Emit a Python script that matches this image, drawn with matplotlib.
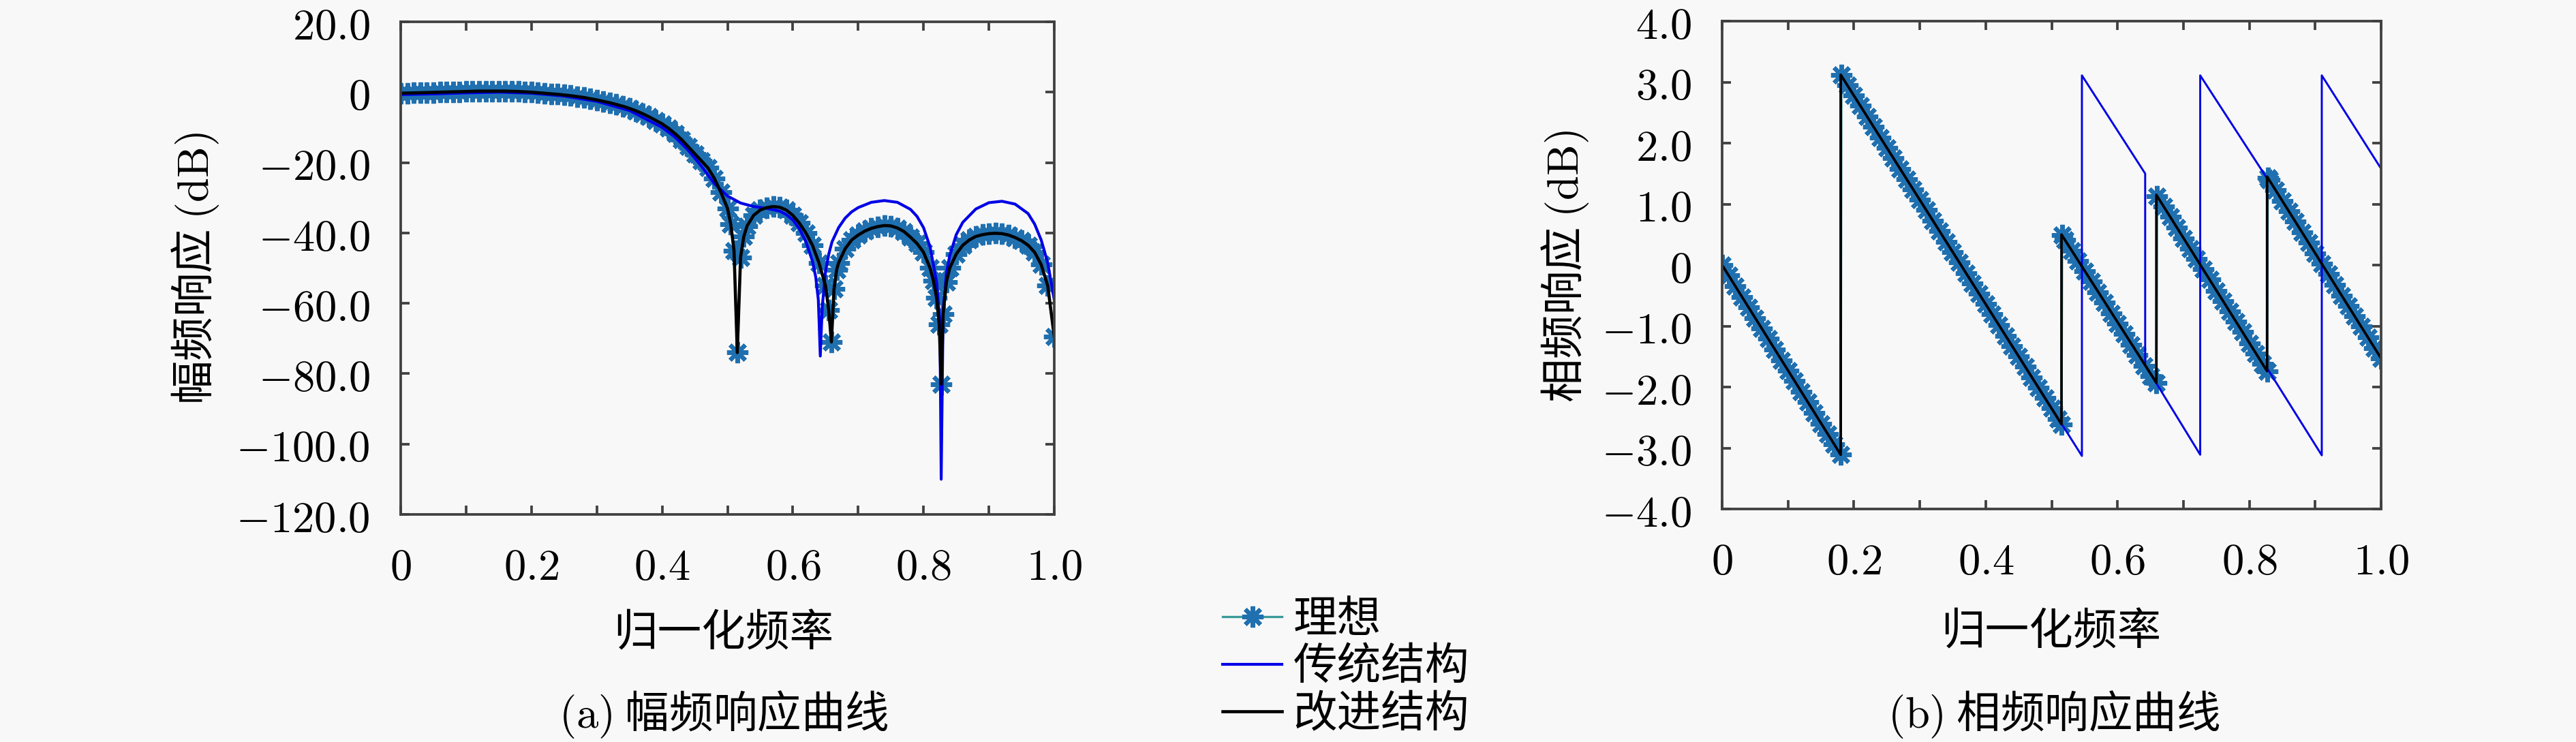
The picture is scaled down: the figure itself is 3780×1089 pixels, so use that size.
import matplotlib as mpl
import matplotlib.pyplot as plt

mpl.rcParams['font.family'] = ['Noto Sans CJK SC', 'DejaVu Sans']
mpl.rcParams['mathtext.fontset'] = 'cm'

# ---- 幅频响应 data (normalized freq, dB) ----
f_mag = [0.00, 0.01, 0.02, 0.03, 0.04, 0.05, 0.06, 0.07, 0.08, 0.09,
         0.10, 0.11, 0.12, 0.13, 0.14, 0.15, 0.16, 0.17, 0.18, 0.19,
         0.20, 0.21, 0.22, 0.23, 0.24, 0.25, 0.26, 0.27, 0.28, 0.29,
         0.30, 0.31, 0.32, 0.33, 0.34, 0.35, 0.36, 0.37, 0.38, 0.39,
         0.40, 0.41, 0.42, 0.43, 0.44, 0.45, 0.46, 0.47, 0.48, 0.49,
         0.50, 0.505, 0.51, 0.515, 0.52, 0.525, 0.53, 0.54, 0.55, 0.56,
         0.57, 0.58, 0.59, 0.60, 0.61, 0.62, 0.63, 0.64, 0.65, 0.655,
         0.659, 0.663, 0.667, 0.67, 0.68, 0.69, 0.70, 0.71, 0.72, 0.73,
         0.74, 0.75, 0.76, 0.77, 0.78, 0.79, 0.80, 0.81, 0.815, 0.82,
         0.824, 0.827, 0.830, 0.835, 0.84, 0.85, 0.86, 0.87, 0.88, 0.89,
         0.90, 0.91, 0.92, 0.93, 0.94, 0.95, 0.96, 0.97, 0.98, 0.99, 1.00]
mag_ideal = [-0.3, -0.25, -0.2, -0.15, -0.1, -0.05, 0.0, 0.05, 0.1, 0.15,
             0.2, 0.25, 0.3, 0.3, 0.3, 0.3, 0.3, 0.25, 0.2, 0.1,
             0.0, -0.15, -0.3, -0.45, -0.6, -0.8, -1.0, -1.25, -1.5, -1.85,
             -2.2, -2.6, -3.0, -3.5, -4.0, -4.6, -5.3, -6.1, -7.0, -8.0,
             -9.0, -10.3, -11.8, -13.5, -15.5, -17.5, -19.5, -21.5, -24.5, -28.5,
             -33.0, -37.5, -45.0, -74.0, -47.0, -41.0, -38.0, -35.0, -33.5, -32.8,
             -32.5, -32.7, -33.5, -35.0, -37.2, -40.0, -43.5, -48.5, -55.0, -62.0,
             -71.0, -56.0, -50.5, -48.5, -44.5, -42.0, -40.6, -39.5, -38.7, -38.2,
             -37.9, -38.0, -38.6, -39.6, -41.2, -43.0, -45.5, -50.0, -53.5, -58.5,
             -66.0, -83.0, -63.0, -54.0, -50.0, -46.0, -43.5, -42.0, -41.0, -40.5,
             -40.2, -40.1, -40.2, -40.6, -41.3, -42.2, -43.5, -45.5, -49.0, -55.0, -69.5]
mag_improved = list(mag_ideal)  # 改进结构 lies on top of the ideal curve

f_mag_trad = [0.00, 0.05, 0.10, 0.15, 0.20, 0.25, 0.30, 0.35, 0.40, 0.42,
              0.44, 0.46, 0.48, 0.50, 0.52, 0.54, 0.56, 0.58, 0.59, 0.60,
              0.61, 0.62, 0.63, 0.635, 0.639, 0.642, 0.645, 0.65, 0.655, 0.66,
              0.67, 0.68, 0.69, 0.70, 0.72, 0.74, 0.76, 0.78, 0.79, 0.80,
              0.81, 0.82, 0.825, 0.827, 0.83, 0.835, 0.84, 0.85, 0.86, 0.88,
              0.90, 0.92, 0.94, 0.96, 0.97, 0.98, 0.99, 1.00]
mag_trad = [-0.7, -0.5, -0.2, 0.0, -0.3, -1.1, -2.6, -5.2, -10.0, -12.8,
            -16.5, -21.0, -26.0, -29.5, -31.5, -32.5, -33.0, -33.8, -34.8, -36.3,
            -38.8, -42.5, -48.0, -52.5, -59.0, -75.0, -61.0, -51.0, -46.0, -42.5,
            -38.5, -35.8, -34.0, -32.8, -31.3, -30.8, -31.3, -33.3, -35.3, -38.5,
            -44.0, -54.0, -65.0, -110.0, -62.0, -51.5, -46.5, -40.5, -37.0, -33.2,
            -31.4, -31.0, -31.8, -34.5, -37.5, -42.0, -48.5, -59.0]

# ---- 相频响应 data ----
f_ph = [0.00, 0.01, 0.02, 0.03, 0.04, 0.05, 0.06, 0.07, 0.08, 0.09,
        0.10, 0.11, 0.12, 0.13, 0.14, 0.15, 0.16, 0.17, 0.18, 0.181,
        0.19, 0.20, 0.21, 0.22, 0.23, 0.24, 0.25, 0.26, 0.27, 0.28,
        0.29, 0.30, 0.31, 0.32, 0.33, 0.34, 0.35, 0.36, 0.37, 0.38,
        0.39, 0.40, 0.41, 0.42, 0.43, 0.44, 0.45, 0.46, 0.47, 0.48,
        0.49, 0.50, 0.51, 0.515, 0.516, 0.52, 0.53, 0.54, 0.55, 0.56,
        0.57, 0.58, 0.59, 0.60, 0.61, 0.62, 0.63, 0.64, 0.65, 0.659,
        0.66, 0.67, 0.68, 0.69, 0.70, 0.71, 0.72, 0.73, 0.74, 0.75,
        0.76, 0.77, 0.78, 0.79, 0.80, 0.81, 0.82, 0.827, 0.828, 0.83,
        0.84, 0.85, 0.86, 0.87, 0.88, 0.89, 0.90, 0.91, 0.92, 0.93,
        0.94, 0.95, 0.96, 0.97, 0.98, 0.99, 1.00]
ph_ideal = [0.00, -0.17, -0.35, -0.52, -0.69, -0.87, -1.04, -1.21, -1.38, -1.56,
            -1.73, -1.90, -2.08, -2.25, -2.42, -2.60, -2.77, -2.94, -3.11, 3.12,
            2.95, 2.78, 2.61, 2.44, 2.27, 2.09, 1.92, 1.75, 1.58, 1.41,
            1.24, 1.07, 0.90, 0.73, 0.56, 0.38, 0.21, 0.04, -0.13, -0.30,
            -0.47, -0.64, -0.81, -0.98, -1.16, -1.33, -1.50, -1.67, -1.84, -2.01,
            -2.18, -2.35, -2.52, -2.61, 0.49, 0.41, 0.24, 0.07, -0.10, -0.27,
            -0.45, -0.62, -0.79, -0.96, -1.13, -1.31, -1.48, -1.65, -1.82, -1.93,
            1.13, 0.96, 0.79, 0.62, 0.44, 0.27, 0.10, -0.07, -0.24, -0.42,
            -0.59, -0.76, -0.93, -1.10, -1.28, -1.45, -1.62, -1.74, 1.43, 1.40,
            1.23, 1.05, 0.88, 0.71, 0.54, 0.37, 0.19, 0.02, -0.15, -0.32,
            -0.50, -0.67, -0.84, -1.01, -1.18, -1.36, -1.53]

f_ph_trad = [0.0, 0.18, 0.18, 0.546, 0.546, 0.642, 0.642, 0.7255, 0.7255, 0.827,
             0.827, 0.910, 0.910, 1.0]
ph_trad = [0.0, -3.11, 3.12, -3.13, 3.11, 1.50, -1.64, -3.11, 3.11, 1.42,
           -1.69, -3.12, 3.11, 1.58]

f_ph_impr = [0.0, 0.18, 0.18, 0.515, 0.515, 0.659, 0.659, 0.827, 0.827, 1.0]
ph_impr = [0.0, -3.11, 3.12, -2.61, 0.50, -1.93, 1.15, -1.74, 1.45, -1.53]

mag_ticks = [20, 0, -20, -40, -60, -80, -100, -120]
ph_ticks = [4, 3, 2, 1, 0, -1, -2, -3, -4]
x_ticks = [0, 0.2, 0.4, 0.6, 0.8, 1.0]
x_minor = [0.1, 0.3, 0.5, 0.7, 0.9]
names = ['理想', '传统结构', '改进结构']


def num_label(v):
    if v == 0:
        return r'$0$'
    return r'$%.1f$' % v


BG = '#f8f8f8'
SPINE = '#404040'
FS = 15.5
W, H = 3780, 1089

fig = plt.figure(figsize=(W / 300, H / 300), dpi=300, facecolor=BG)
ax1 = fig.add_axes([588 / W, 1 - 755 / H, 959 / W, 723 / H])
ax2 = fig.add_axes([2527 / W, 1 - 747 / H, 967 / W, 716 / H])

ideal_style = dict(color='#3a9a9a', lw=0.8, marker=(8, 2, 0), markersize=7.5,
                   markeredgecolor='#2070b0', markeredgewidth=1.5)

l1, = ax1.plot(f_mag, mag_ideal, label=names[0], **ideal_style)
l2, = ax1.plot(f_mag_trad, mag_trad, color='#0000e6', lw=1.0, label=names[1])
l3, = ax1.plot(f_mag, mag_improved, color='black', lw=1.1, label=names[2])

ax2.plot(f_ph, ph_ideal, **ideal_style)
ax2.plot(f_ph_trad, ph_trad, color='#0000e6', lw=0.7)
ax2.plot(f_ph_impr, ph_impr, color='black', lw=0.9)

ax1.set_ylim(-120, 20)
ax1.set_yticks(mag_ticks, labels=[num_label(v) for v in mag_ticks])
ax2.set_ylim(-4, 4)
ax2.set_yticks(ph_ticks, labels=[num_label(v) for v in ph_ticks])

for ax in (ax1, ax2):
    ax.set_facecolor(BG)
    ax.set_xlim(0, 1)
    ax.set_xticks(x_ticks, labels=[num_label(v) for v in x_ticks])
    ax.set_xticks(x_minor, minor=True)
    ax.tick_params(which='both', direction='in', length=3.2, width=0.9,
                   color=SPINE, top=True, right=True, labelsize=FS, pad=10.8)
    for sp in ax.spines.values():
        sp.set_color(SPINE)
        sp.set_linewidth(0.9)

# axis titles and captions
fig.text(1062 / W, 1 - 930 / H, '归一化频率', ha='center', va='center', fontsize=FS)
fig.text(3010 / W, 1 - 928 / H, '归一化频率', ha='center', va='center', fontsize=FS)
fig.text(286 / W, 1 - 394 / H, '幅频响应 $\\mathrm{(dB)}$', rotation=90,
         ha='center', va='center', fontsize=FS)
fig.text(2296 / W, 1 - 391 / H, '相频响应 $\\mathrm{(dB)}$', rotation=90,
         ha='center', va='center', fontsize=FS)
fig.text(1062 / W, 1 - 1048 / H, '$\\mathrm{(a)}$ 幅频响应曲线', ha='center',
         va='center', fontsize=FS)
fig.text(3014 / W, 1 - 1048 / H, '$\\mathrm{(b)}$ 相频响应曲线', ha='center',
         va='center', fontsize=FS)

fig.legend(handles=[l1, l2, l3], labels=names, loc='center left',
           bbox_to_anchor=(1794 / W, 1 - 979 / H), frameon=False,
           borderpad=0, borderaxespad=0, handlelength=1.35, handletextpad=0.25,
           labelspacing=0.05, fontsize=FS)

fig.savefig('out.png', dpi=300, facecolor=BG)
